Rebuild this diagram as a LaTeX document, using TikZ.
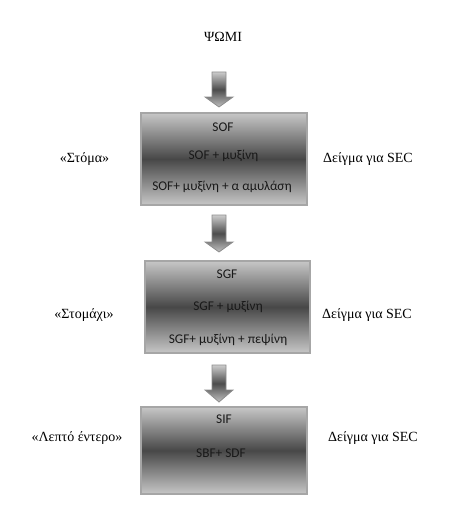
\documentclass[tikz,border=0pt]{standalone}
\usepackage{fontspec}
\setmainfont{Liberation Serif}
\newfontfamily\boxfont{Carlito}
\usetikzlibrary{calc}
\tikzset{
  stagebox/.style={draw=black!35, line width=0.8pt, top color=black!22, bottom color=black!22, middle color=black!72, inner sep=0pt},
  boxtext/.style={font=\boxfont\fontsize{10}{12}\selectfont, text=black!90, inner sep=0pt},
  sidetext/.style={font=\fontsize{10.5}{12.5}\selectfont, inner sep=0pt},
  blockarrow/.style={draw=black!45, line width=0.6pt, top color=black!20, bottom color=black!25, middle color=black!70}
}
\begin{document}
\begin{tikzpicture}[x=0.75pt,y=-0.75pt]
\useasboundingbox (0,0) rectangle (457,510);
% title
\node[sidetext] (food) at (223,37) {ΨΩΜΙ};
% boxes
\node[stagebox, minimum width=166*0.75pt, minimum height=92*0.75pt] (mouth) at (224,159) {};
\node[stagebox, minimum width=165*0.75pt, minimum height=92*0.75pt] (stomach) at (227.5,307) {};
\node[stagebox, minimum width=166*0.75pt, minimum height=87*0.75pt] (intestine) at (224,450.5) {};
% box texts
\node[boxtext] (t11) at (223,127) {SOF};
\node[boxtext] (t12) at (223.5,156) {SOF + μυξίνη};
\node[boxtext] (t13) at (222,187) {SOF+ μυξίνη + α αμυλάση};
\node[boxtext] (t21) at (227,274) {SGF};
\node[boxtext] (t22) at (228,307) {SGF + μυξίνη};
\node[boxtext] (t23) at (228,340) {SGF+ μυξίνη + πεψίνη};
\node[boxtext] (t31) at (224,419) {SIF};
\node[boxtext] (t32) at (221,453) {SBF+ SDF};
% side labels
\node[sidetext] (l1) at (84.5,159) {«Στόμα»};
\node[sidetext] (l2) at (84,315) {«Στομάχι»};
\node[sidetext] (l3) at (77,438) {«Λεπτό έντερο»};
\node[sidetext] (r1) at (368,159) {Δείγμα για SEC};
\node[sidetext] (r2) at (367,315) {Δείγμα για SEC};
\node[sidetext] (r3) at (373,438) {Δείγμα για SEC};
% block arrows
\foreach \top/\base/\tip in {72/97/107, 215/242/252, 365/390/402}{
  \draw[blockarrow] (212,\top) -- (226,\top) -- (226,\base) -- (233,\base) -- (219,\tip) -- (205,\base) -- (212,\base) -- cycle;
}
\end{tikzpicture}
\end{document}
